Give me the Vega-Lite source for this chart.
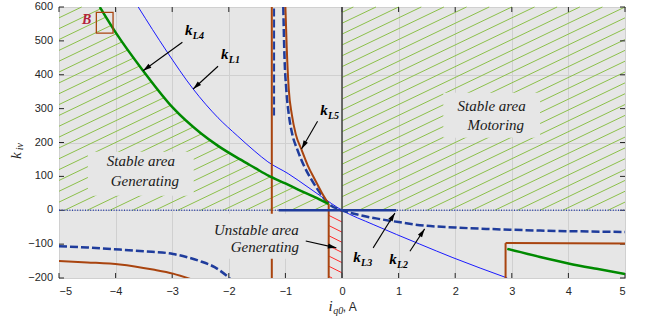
{
  "$schema": "https://vega.github.io/schema/vega-lite/v6.json",
  "width": 566,
  "height": 271,
  "autosize": "none",
  "padding": {"left": 59, "top": 7, "right": 23, "bottom": 46},
  "background": "white",
  "config": {"view": {"fill": "#e6e6e6", "stroke": "#333333", "strokeWidth": 1}, "axis": {"labelOverlap": false}},
  "datasets": {
    "curves": [
      {"s": "kL1", "seg": "a", "x": -3.6, "y": 600}, {"s": "kL1", "seg": "a", "x": -3.1, "y": 470}, {"s": "kL1", "seg": "a", "x": -2.63, "y": 358}, {"s": "kL1", "seg": "a", "x": -2.19, "y": 273}, {"s": "kL1", "seg": "a", "x": -1.85, "y": 220}, {"s": "kL1", "seg": "a", "x": -1.54, "y": 174}, {"s": "kL1", "seg": "a", "x": -1.31, "y": 143}, {"s": "kL1", "seg": "a", "x": -0.95, "y": 108}, {"s": "kL1", "seg": "a", "x": -0.6, "y": 68}, {"s": "kL1", "seg": "a", "x": -0.36, "y": 40}, {"s": "kL1", "seg": "a", "x": 0, "y": 0}, {"s": "kL1", "seg": "a", "x": 0.55, "y": -42}, {"s": "kL1", "seg": "a", "x": 1.375, "y": -100}, {"s": "kL1", "seg": "a", "x": 1.96, "y": -140}, {"s": "kL1", "seg": "a", "x": 2.92, "y": -200},
      {"s": "kL2", "seg": "L", "x": -5, "y": -106}, {"s": "kL2", "seg": "L", "x": -4.5, "y": -110}, {"s": "kL2", "seg": "L", "x": -3.925, "y": -116}, {"s": "kL2", "seg": "L", "x": -3.5, "y": -121}, {"s": "kL2", "seg": "L", "x": -2.985, "y": -129}, {"s": "kL2", "seg": "L", "x": -2.75, "y": -138}, {"s": "kL2", "seg": "L", "x": -2.51, "y": -150}, {"s": "kL2", "seg": "L", "x": -2.25, "y": -168}, {"s": "kL2", "seg": "L", "x": -1.98, "y": -201},
      {"s": "kL2", "seg": "U", "x": -1.037, "y": 600}, {"s": "kL2", "seg": "U", "x": -1.02, "y": 474}, {"s": "kL2", "seg": "U", "x": -0.984, "y": 356}, {"s": "kL2", "seg": "U", "x": -0.94, "y": 283}, {"s": "kL2", "seg": "U", "x": -0.878, "y": 224}, {"s": "kL2", "seg": "U", "x": -0.789, "y": 179}, {"s": "kL2", "seg": "U", "x": -0.674, "y": 132}, {"s": "kL2", "seg": "U", "x": -0.542, "y": 91}, {"s": "kL2", "seg": "U", "x": -0.392, "y": 52}, {"s": "kL2", "seg": "U", "x": -0.241, "y": 20}, {"s": "kL2", "seg": "U", "x": 0, "y": 0}, {"s": "kL2", "seg": "U", "x": 0.3, "y": -14}, {"s": "kL2", "seg": "U", "x": 0.6, "y": -24}, {"s": "kL2", "seg": "U", "x": 1.0, "y": -35}, {"s": "kL2", "seg": "U", "x": 1.375, "y": -44}, {"s": "kL2", "seg": "U", "x": 2.0, "y": -51}, {"s": "kL2", "seg": "U", "x": 2.55, "y": -55}, {"s": "kL2", "seg": "U", "x": 3.5, "y": -60}, {"s": "kL2", "seg": "U", "x": 5, "y": -64},
      {"s": "kL5", "seg": "L", "x": -5, "y": -150}, {"s": "kL5", "seg": "L", "x": -4.5, "y": -154}, {"s": "kL5", "seg": "L", "x": -3.925, "y": -160}, {"s": "kL5", "seg": "L", "x": -3.34, "y": -175}, {"s": "kL5", "seg": "L", "x": -2.985, "y": -187}, {"s": "kL5", "seg": "L", "x": -2.66, "y": -204},
      {"s": "kL5", "seg": "U", "x": -1.0, "y": 600}, {"s": "kL5", "seg": "U", "x": -0.975, "y": 474}, {"s": "kL5", "seg": "U", "x": -0.94, "y": 356}, {"s": "kL5", "seg": "U", "x": -0.887, "y": 283}, {"s": "kL5", "seg": "U", "x": -0.816, "y": 224}, {"s": "kL5", "seg": "U", "x": -0.715, "y": 179}, {"s": "kL5", "seg": "U", "x": -0.604, "y": 132}, {"s": "kL5", "seg": "U", "x": -0.48, "y": 91}, {"s": "kL5", "seg": "U", "x": -0.357, "y": 52}, {"s": "kL5", "seg": "U", "x": -0.238, "y": 19},
      {"s": "kL4", "seg": "U", "x": -4.28, "y": 600}, {"s": "kL4", "seg": "U", "x": -4.0, "y": 525}, {"s": "kL4", "seg": "U", "x": -3.515, "y": 412}, {"s": "kL4", "seg": "U", "x": -2.985, "y": 302}, {"s": "kL4", "seg": "U", "x": -2.5, "y": 228}, {"s": "kL4", "seg": "U", "x": -2.19, "y": 190}, {"s": "kL4", "seg": "U", "x": -1.8, "y": 150}, {"s": "kL4", "seg": "U", "x": -1.54, "y": 125}, {"s": "kL4", "seg": "U", "x": -1.3, "y": 102}, {"s": "kL4", "seg": "U", "x": -1.0, "y": 79}, {"s": "kL4", "seg": "U", "x": -0.775, "y": 61}, {"s": "kL4", "seg": "U", "x": -0.5, "y": 40}, {"s": "kL4", "seg": "U", "x": -0.238, "y": 19},
      {"s": "kL4", "seg": "R", "x": 2.92, "y": -114}, {"s": "kL4", "seg": "R", "x": 3.5, "y": -138}, {"s": "kL4", "seg": "R", "x": 4.0, "y": -157}, {"s": "kL4", "seg": "R", "x": 4.5, "y": -173}, {"s": "kL4", "seg": "R", "x": 5, "y": -188}
    ],
    "segs": [
      {"s": "zero", "x": 0, "y": -200, "x2": 0, "y2": 600},
      {"s": "dot", "x": -5, "y": 0, "x2": 5, "y2": 0},
      {"s": "kL3", "x": -1.12, "y": 0, "x2": 0.96, "y2": 0},
      {"s": "kL5", "x": -1.24, "y": -200, "x2": -1.24, "y2": 600},
      {"s": "kL5", "x": -0.235, "y": -200, "x2": -0.235, "y2": 19},
      {"s": "kL5", "x": 2.89, "y": -200, "x2": 2.89, "y2": -97},
      {"s": "kL5", "x": 2.89, "y": -97, "x2": 5, "y2": -98},
      {"s": "kL2", "x": -1.2, "y": 280, "x2": -1.2, "y2": 600}
    ],
    "xticks": [{"v": -5}, {"v": -4}, {"v": -3}, {"v": -2}, {"v": -1}, {"v": 0}, {"v": 1}, {"v": 2}, {"v": 3}, {"v": 4}, {"v": 5}],
    "yticks": [{"v": -200}, {"v": -100}, {"v": 0}, {"v": 100}, {"v": 200}, {"v": 300}, {"v": 400}, {"v": 500}, {"v": 600}],
    "hatch": [
      {"h": "g", "x": -5, "y": 568, "x2": -4.6, "y2": 600}, {"h": "g", "x": -5, "y": 536, "x2": -4.2616, "y2": 595}, {"h": "g", "x": -5, "y": 504, "x2": -4.17, "y2": 570.4}, {"h": "g", "x": -5, "y": 472, "x2": -4.0776, "y2": 545.8}, {"h": "g", "x": -5, "y": 440, "x2": -3.984, "y2": 521.3}, {"h": "g", "x": -5, "y": 408, "x2": -3.8818, "y2": 497.5}, {"h": "g", "x": -5, "y": 376, "x2": -3.7796, "y2": 473.6}, {"h": "g", "x": -5, "y": 344, "x2": -3.6773, "y2": 449.8}, {"h": "g", "x": -5, "y": 312, "x2": -3.5751, "y2": 426}, {"h": "g", "x": -5, "y": 280, "x2": -3.469, "y2": 402.5}, {"h": "g", "x": -5, "y": 248, "x2": -3.3578, "y2": 379.4}, {"h": "g", "x": -5, "y": 216, "x2": -3.2465, "y2": 356.3}, {"h": "g", "x": -5, "y": 184, "x2": -3.1353, "y2": 333.2}, {"h": "g", "x": -5, "y": 152, "x2": -3.024, "y2": 310.1}, {"h": "g", "x": -5, "y": 120, "x2": -2.8956, "y2": 288.4}, {"h": "g", "x": -5, "y": 88, "x2": -2.758, "y2": 267.4}, {"h": "g", "x": -5, "y": 56, "x2": -2.6204, "y2": 246.4}, {"h": "g", "x": -5, "y": 24, "x2": -2.4803, "y2": 225.6}, {"h": "g", "x": -4.9, "y": 0, "x2": -2.3223, "y2": 206.2}, {"h": "g", "x": -4.5, "y": 0, "x2": -2.1615, "y2": 187.1}, {"h": "g", "x": -4.1, "y": 0, "x2": -1.9862, "y2": 169.1}, {"h": "g", "x": -3.7, "y": 0, "x2": -1.811, "y2": 151.1}, {"h": "g", "x": -3.3, "y": 0, "x2": -1.6297, "y2": 133.6}, {"h": "g", "x": -2.9, "y": 0, "x2": -1.4479, "y2": 116.2}, {"h": "g", "x": -2.5, "y": 0, "x2": -1.2617, "y2": 99.1}, {"h": "g", "x": -2.1, "y": 0, "x2": -1.0574, "y2": 83.4}, {"h": "g", "x": -1.7, "y": 0, "x2": -0.8562, "y2": 67.5}, {"h": "g", "x": -1.3, "y": 0, "x2": -0.6535, "y2": 51.7}, {"h": "g", "x": -0.9, "y": 0, "x2": -0.4507, "y2": 35.9}, {"h": "g", "x": -0.5, "y": 0, "x2": -0.2536, "y2": 19.7},
      {"h": "g", "x": 0, "y": 584, "x2": 0.2, "y2": 600}, {"h": "g", "x": 0, "y": 552, "x2": 0.6, "y2": 600}, {"h": "g", "x": 0, "y": 520, "x2": 1.0, "y2": 600}, {"h": "g", "x": 0, "y": 488, "x2": 1.4, "y2": 600}, {"h": "g", "x": 0, "y": 456, "x2": 1.8, "y2": 600}, {"h": "g", "x": 0, "y": 424, "x2": 2.2, "y2": 600}, {"h": "g", "x": 0, "y": 392, "x2": 2.6, "y2": 600}, {"h": "g", "x": 0, "y": 360, "x2": 3.0, "y2": 600}, {"h": "g", "x": 0, "y": 328, "x2": 3.4, "y2": 600}, {"h": "g", "x": 0, "y": 296, "x2": 3.8, "y2": 600}, {"h": "g", "x": 0, "y": 264, "x2": 4.2, "y2": 600}, {"h": "g", "x": 0, "y": 232, "x2": 4.6, "y2": 600}, {"h": "g", "x": 0, "y": 200, "x2": 5.0, "y2": 600}, {"h": "g", "x": 0, "y": 168, "x2": 5, "y2": 568}, {"h": "g", "x": 0, "y": 136, "x2": 5, "y2": 536}, {"h": "g", "x": 0, "y": 104, "x2": 5, "y2": 504}, {"h": "g", "x": 0, "y": 72, "x2": 5, "y2": 472}, {"h": "g", "x": 0, "y": 40, "x2": 5, "y2": 440}, {"h": "g", "x": 0, "y": 8, "x2": 5, "y2": 408}, {"h": "g", "x": 0.3, "y": 0, "x2": 5, "y2": 376}, {"h": "g", "x": 0.7, "y": 0, "x2": 5, "y2": 344}, {"h": "g", "x": 1.1, "y": 0, "x2": 5, "y2": 312}, {"h": "g", "x": 1.5, "y": 0, "x2": 5, "y2": 280}, {"h": "g", "x": 1.9, "y": 0, "x2": 5, "y2": 248}, {"h": "g", "x": 2.3, "y": 0, "x2": 5, "y2": 216}, {"h": "g", "x": 2.7, "y": 0, "x2": 5, "y2": 184}, {"h": "g", "x": 3.1, "y": 0, "x2": 5, "y2": 152}, {"h": "g", "x": 3.5, "y": 0, "x2": 5, "y2": 120}, {"h": "g", "x": 3.9, "y": 0, "x2": 5, "y2": 88}, {"h": "g", "x": 4.3, "y": 0, "x2": 5, "y2": 56}, {"h": "g", "x": 4.7, "y": 0, "x2": 5, "y2": 24},
      {"h": "r", "x": -0.055, "y": 0, "x2": 0, "y2": -4.6}, {"h": "r", "x": -0.235, "y": -15, "x2": 0, "y2": -34.6}, {"h": "r", "x": -0.235, "y": -45, "x2": 0, "y2": -64.6}, {"h": "r", "x": -0.235, "y": -75, "x2": 0, "y2": -94.6}, {"h": "r", "x": -0.235, "y": -105, "x2": 0, "y2": -124.6}, {"h": "r", "x": -0.235, "y": -135, "x2": 0, "y2": -154.6}, {"h": "r", "x": -0.235, "y": -165, "x2": 0, "y2": -184.6}, {"h": "r", "x": -0.235, "y": -195, "x2": -0.175, "y2": -200}
    ],
    "boxes": [
      {"k": "bg", "x": 1.79, "x2": 3.5, "y": 214, "y2": 347},
      {"k": "bg", "x": -4.49, "x2": -2.62, "y": 43, "y2": 173},
      {"k": "bg", "x": -2.385, "x2": -0.69, "y": -143, "y2": -10},
      {"k": "B", "x": -4.34, "x2": -4.045, "y": 523, "y2": 584}
    ],
    "regions": [
      {"t": "Stable area", "x": 2.644, "y": 307},
      {"t": "Motoring", "x": 2.716, "y": 253},
      {"t": "Stable area", "x": -3.554, "y": 144},
      {"t": "Generating", "x": -3.483, "y": 85},
      {"t": "Unstable area", "x": -1.514, "y": -57},
      {"t": "Generating", "x": -1.364, "y": -108}
    ],
    "klabels": [
      {"t": "L4", "x": -2.707, "y": 533},
      {"t": "L1", "x": -2.07, "y": 462},
      {"t": "L5", "x": -0.32, "y": 297},
      {"t": "L3", "x": 0.266, "y": -137},
      {"t": "L2", "x": 0.9, "y": -145}
    ],
    "arrows": [
      {"x": -2.82, "y": 496, "x2": -3.515, "y2": 412},
      {"x": -2.19, "y": 425, "x2": -2.63, "y2": 358},
      {"x": -0.432, "y": 263, "x2": -0.715, "y2": 181},
      {"x": 0.55, "y": -111, "x2": 0.935, "y2": -8},
      {"x": 1.2, "y": -121, "x2": 1.46, "y2": -55},
      {"x": -0.64, "y": -91, "x2": -0.1, "y2": -111}
    ]
  },
  "layer": [
    {
      "data": {"name": "hatch"},
      "transform": [{"filter": "datum.h === 'g'"}],
      "mark": {"type": "rule", "stroke": "#8cc04a", "strokeWidth": 1},
      "encoding": {
        "x": {"field": "x", "type": "quantitative", "scale": {"domain": [-5, 5], "nice": false, "zero": false},
              "axis": {"values": [-5, -4, -3, -2, -1, 0, 1, 2, 3, 4, 5], "format": "d", "labelOverlap": false, "title": null, "grid": true, "gridColor": "#d0d0d0", "gridWidth": 1, "domain": false, "ticks": false, "labelPadding": 7, "labelFont": "Liberation Sans", "labelFontSize": 11, "labelColor": "#262626"}},
        "y": {"field": "y", "type": "quantitative", "scale": {"domain": [-200, 600], "nice": false, "zero": false},
              "axis": {"values": [-200, -100, 0, 100, 200, 300, 400, 500, 600], "labels": false, "title": null, "grid": true, "gridColor": "#d0d0d0", "gridWidth": 1, "domain": false, "ticks": false}},
        "x2": {"field": "x2"},
        "y2": {"field": "y2"}
      }
    },
    {
      "data": {"name": "hatch"},
      "transform": [{"filter": "datum.h === 'r'"}],
      "mark": {"type": "rule", "stroke": "#ff2a2a", "strokeWidth": 1},
      "encoding": {"x": {"field": "x", "type": "quantitative"}, "y": {"field": "y", "type": "quantitative"}, "x2": {"field": "x2"}, "y2": {"field": "y2"}}
    },
    {
      "data": {"name": "xticks"},
      "mark": {"type": "rule", "stroke": "#262626", "strokeWidth": 1, "y2Offset": 5},
      "encoding": {"x": {"field": "v", "type": "quantitative"}, "y": {"datum": 600}, "y2": {"datum": 600}}
    },
    {
      "data": {"name": "xticks"},
      "mark": {"type": "rule", "stroke": "#262626", "strokeWidth": 1, "y2Offset": -5},
      "encoding": {"x": {"field": "v", "type": "quantitative"}, "y": {"datum": -200}, "y2": {"datum": -200}}
    },
    {
      "data": {"name": "yticks"},
      "mark": {"type": "rule", "stroke": "#262626", "strokeWidth": 1, "x2Offset": 5},
      "encoding": {"y": {"field": "v", "type": "quantitative"}, "x": {"datum": -5}, "x2": {"datum": -5}}
    },
    {
      "data": {"name": "yticks"},
      "mark": {"type": "rule", "stroke": "#262626", "strokeWidth": 1, "x2Offset": -5},
      "encoding": {"y": {"field": "v", "type": "quantitative"}, "x": {"datum": 5}, "x2": {"datum": 5}}
    },
    {
      "data": {"name": "yticks"},
      "mark": {"type": "text", "font": "Liberation Sans", "fontSize": 11, "color": "#262626", "align": "right", "baseline": "middle", "dx": -6},
      "encoding": {"y": {"field": "v", "type": "quantitative"}, "x": {"datum": -5}, "text": {"field": "v", "type": "quantitative", "format": "d"}}
    },
    {
      "data": {"name": "segs"},
      "transform": [{"filter": "datum.s === 'zero'"}],
      "mark": {"type": "rule", "stroke": "#404040", "strokeWidth": 1.5},
      "encoding": {"x": {"field": "x", "type": "quantitative"}, "y": {"field": "y", "type": "quantitative"}, "x2": {"field": "x2"}, "y2": {"field": "y2"}}
    },
    {
      "data": {"name": "segs"},
      "transform": [{"filter": "datum.s === 'dot'"}],
      "mark": {"type": "rule", "stroke": "#2f44a8", "strokeWidth": 1.5, "strokeDash": [1, 1.6]},
      "encoding": {"x": {"field": "x", "type": "quantitative"}, "y": {"field": "y", "type": "quantitative"}, "x2": {"field": "x2"}, "y2": {"field": "y2"}}
    },
    {
      "data": {"name": "curves"},
      "transform": [{"filter": "datum.s === 'kL1'"}],
      "mark": {"type": "line", "stroke": "#1a1aff", "strokeWidth": 1, "interpolate": "monotone", "clip": true},
      "encoding": {"x": {"field": "x", "type": "quantitative"}, "y": {"field": "y", "type": "quantitative"}, "detail": {"field": "seg"}}
    },
    {
      "data": {"name": "curves"},
      "transform": [{"filter": "datum.s === 'kL2'"}],
      "mark": {"type": "line", "stroke": "#1f3c9c", "strokeWidth": 2.5, "strokeDash": [8, 3], "interpolate": "monotone", "clip": true},
      "encoding": {"x": {"field": "x", "type": "quantitative"}, "y": {"field": "y", "type": "quantitative"}, "detail": {"field": "seg"}}
    },
    {
      "data": {"name": "segs"},
      "transform": [{"filter": "datum.s === 'kL2'"}],
      "mark": {"type": "rule", "stroke": "#1f3c9c", "strokeWidth": 2, "strokeDash": [8, 3]},
      "encoding": {"x": {"field": "x", "type": "quantitative"}, "y": {"field": "y", "type": "quantitative"}, "x2": {"field": "x2"}, "y2": {"field": "y2"}}
    },
    {
      "data": {"name": "curves"},
      "transform": [{"filter": "datum.s === 'kL5'"}],
      "mark": {"type": "line", "stroke": "#a9440f", "strokeWidth": 2, "interpolate": "monotone", "clip": true},
      "encoding": {"x": {"field": "x", "type": "quantitative"}, "y": {"field": "y", "type": "quantitative"}, "detail": {"field": "seg"}}
    },
    {
      "data": {"name": "segs"},
      "transform": [{"filter": "datum.s === 'kL5'"}],
      "mark": {"type": "rule", "stroke": "#a9440f", "strokeWidth": 2},
      "encoding": {"x": {"field": "x", "type": "quantitative"}, "y": {"field": "y", "type": "quantitative"}, "x2": {"field": "x2"}, "y2": {"field": "y2"}}
    },
    {
      "data": {"name": "curves"},
      "transform": [{"filter": "datum.s === 'kL4'"}],
      "mark": {"type": "line", "stroke": "#008a00", "strokeWidth": 2.5, "interpolate": "monotone", "clip": true},
      "encoding": {"x": {"field": "x", "type": "quantitative"}, "y": {"field": "y", "type": "quantitative"}, "detail": {"field": "seg"}}
    },
    {
      "data": {"name": "segs"},
      "transform": [{"filter": "datum.s === 'kL3'"}],
      "mark": {"type": "rule", "stroke": "#1f3c9c", "strokeWidth": 2.5},
      "encoding": {"x": {"field": "x", "type": "quantitative"}, "y": {"field": "y", "type": "quantitative"}, "x2": {"field": "x2"}, "y2": {"field": "y2"}}
    },
    {
      "data": {"name": "boxes"},
      "transform": [{"filter": "datum.k === 'bg'"}],
      "mark": {"type": "rect", "fill": "#e6e6e6"},
      "encoding": {"x": {"field": "x", "type": "quantitative"}, "y": {"field": "y", "type": "quantitative"}, "x2": {"field": "x2"}, "y2": {"field": "y2"}}
    },
    {
      "data": {"name": "boxes"},
      "transform": [{"filter": "datum.k === 'B'"}],
      "mark": {"type": "rect", "fill": null, "fillOpacity": 0, "stroke": "#a9440f", "strokeWidth": 1.3},
      "encoding": {"x": {"field": "x", "type": "quantitative"}, "y": {"field": "y", "type": "quantitative"}, "x2": {"field": "x2"}, "y2": {"field": "y2"}}
    },
    {
      "data": {"name": "regions"},
      "mark": {"type": "text", "font": "Liberation Serif", "fontStyle": "italic", "fontSize": 15, "color": "#1a1a1a", "align": "center", "baseline": "middle"},
      "encoding": {"x": {"field": "x", "type": "quantitative"}, "y": {"field": "y", "type": "quantitative"}, "text": {"field": "t"}}
    },
    {
      "data": {"values": [{"t": "B", "x": -4.51, "y": 562}]},
      "mark": {"type": "text", "font": "Liberation Serif", "fontStyle": "italic", "fontWeight": "bold", "fontSize": 14, "color": "#b3203c", "align": "center", "baseline": "middle"},
      "encoding": {"x": {"field": "x", "type": "quantitative"}, "y": {"field": "y", "type": "quantitative"}, "text": {"field": "t"}}
    },
    {
      "data": {"name": "klabels"},
      "mark": {"type": "text", "text": "k", "font": "Liberation Serif", "fontStyle": "italic", "fontWeight": "bold", "fontSize": 15, "color": "#000000", "align": "center", "baseline": "middle"},
      "encoding": {"x": {"field": "x", "type": "quantitative"}, "y": {"field": "y", "type": "quantitative"}}
    },
    {
      "data": {"name": "klabels"},
      "mark": {"type": "text", "font": "Liberation Serif", "fontStyle": "italic", "fontWeight": "bold", "fontSize": 10, "color": "#000000", "align": "left", "baseline": "middle", "dx": 4, "dy": 6},
      "encoding": {"x": {"field": "x", "type": "quantitative"}, "y": {"field": "y", "type": "quantitative"}, "text": {"field": "t"}}
    },
    {
      "data": {"values": [{"t": "i", "x": -0.203, "y": -283}]},
      "mark": {"type": "text", "font": "Liberation Serif", "fontStyle": "italic", "fontSize": 15, "color": "#262626", "align": "center", "baseline": "middle"},
      "encoding": {"x": {"field": "x", "type": "quantitative"}, "y": {"field": "y", "type": "quantitative"}, "text": {"field": "t"}}
    },
    {
      "data": {"values": [{"t": "q0", "x": -0.155, "y": -298}]},
      "mark": {"type": "text", "font": "Liberation Serif", "fontStyle": "italic", "fontSize": 10, "color": "#262626", "align": "left", "baseline": "middle"},
      "encoding": {"x": {"field": "x", "type": "quantitative"}, "y": {"field": "y", "type": "quantitative"}, "text": {"field": "t"}}
    },
    {
      "data": {"values": [{"t": ", A", "x": 0.015, "y": -285}]},
      "mark": {"type": "text", "font": "Liberation Sans", "fontSize": 12, "color": "#262626", "align": "left", "baseline": "middle"},
      "encoding": {"x": {"field": "x", "type": "quantitative"}, "y": {"field": "y", "type": "quantitative"}, "text": {"field": "t"}}
    },
    {
      "data": {"values": [{"t": "k", "x": -5.757, "y": 161}]},
      "mark": {"type": "text", "font": "Liberation Serif", "fontStyle": "italic", "fontSize": 15, "color": "#262626", "align": "center", "baseline": "middle", "angle": 270},
      "encoding": {"x": {"field": "x", "type": "quantitative"}, "y": {"field": "y", "type": "quantitative"}, "text": {"field": "t"}}
    },
    {
      "data": {"values": [{"t": "iv", "x": -5.686, "y": 177}]},
      "mark": {"type": "text", "font": "Liberation Serif", "fontStyle": "italic", "fontSize": 10, "color": "#262626", "align": "left", "baseline": "middle", "angle": 270},
      "encoding": {"x": {"field": "x", "type": "quantitative"}, "y": {"field": "y", "type": "quantitative"}, "text": {"field": "t"}}
    },
    {
      "data": {"name": "arrows"},
      "mark": {"type": "rule", "stroke": "#000000", "strokeWidth": 1.1},
      "encoding": {"x": {"field": "x", "type": "quantitative"}, "y": {"field": "y", "type": "quantitative"}, "x2": {"field": "x2"}, "y2": {"field": "y2"}}
    },
    {
      "data": {"name": "arrows"},
      "transform": [{"calculate": "atan2((datum.x2 - datum.x) * 56.57, (datum.y2 - datum.y) * 0.339) * 180 / PI", "as": "ang"}],
      "mark": {"type": "point", "shape": "M0,0L-0.55,1.9L0.55,1.9Z", "filled": true, "color": "#000000", "opacity": 1, "size": 80},
      "encoding": {"x": {"field": "x2", "type": "quantitative"}, "y": {"field": "y2", "type": "quantitative"}, "angle": {"field": "ang", "type": "quantitative", "scale": null}}
    }
  ]
}
